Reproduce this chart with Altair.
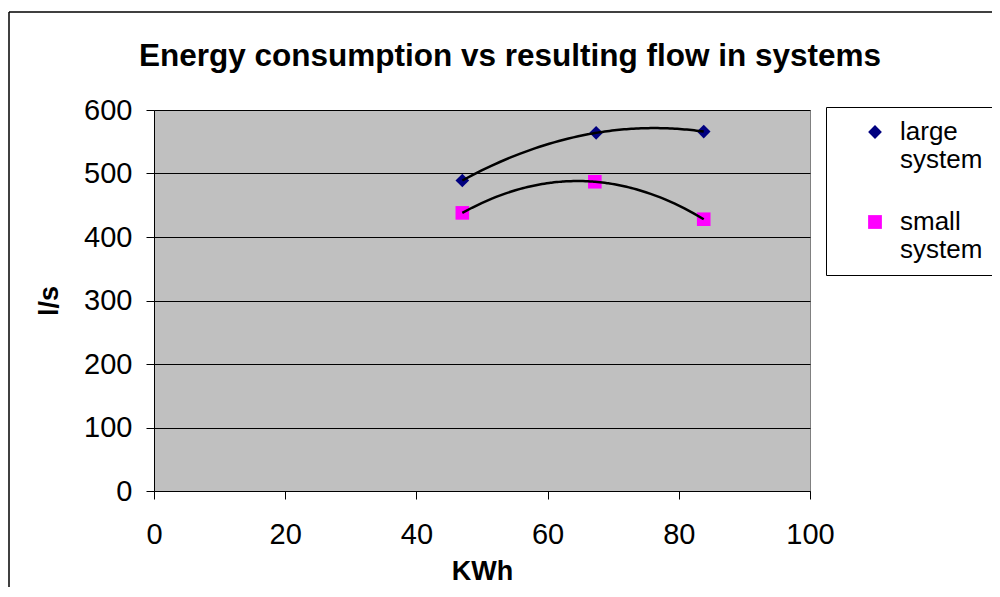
import altair as alt
import pandas as pd

TITLE = "Energy consumption vs resulting flow in systems"
X_TITLE = "KWh"
Y_TITLE = "l/s"
SERIES = ["large system", "small system"]
COLORS = ["#000080", "#FF00FF"]
SHAPES = ["diamond", "square"]

large_kwh = [47.0, 67.4, 83.8]
large_flow = [489, 564, 566]
small_kwh = [47.0, 67.2, 83.8]
small_flow = [438, 487, 428]

X_TICKS = [0, 20, 40, 60, 80, 100]
Y_TICKS = [0, 100, 200, 300, 400, 500, 600]

rows = []
for k, f in zip(large_kwh, large_flow):
    rows.append({"series": SERIES[0], "kwh": k, "flow": f})
for k, f in zip(small_kwh, small_flow):
    rows.append({"series": SERIES[1], "kwh": k, "flow": f})
df = pd.DataFrame(rows)
one = pd.DataFrame({"k": [0]})

FONT = "Liberation Sans"

x_enc = alt.X(
    "kwh:Q",
    scale=alt.Scale(domain=[0, 100], nice=False),
    axis=alt.Axis(values=X_TICKS, title=X_TITLE, grid=False, tickSize=8,
                  labelPadding=21, titlePadding=9, labelFlush=False),
)
y_enc = alt.Y(
    "flow:Q",
    scale=alt.Scale(domain=[0, 600], nice=False),
    axis=alt.Axis(values=Y_TICKS, title=Y_TITLE, grid=True, tickSize=8,
                  labelPadding=14, titlePadding=20, labelFlush=False),
)

LEG = alt.Legend(
    title=None, orient="none", legendX=672, legendY=-3,
    fillColor="white", strokeColor="black", padding=12,
    symbolOffset=24, labelOffset=12, labelFont=FONT, labelFontSize=26,
    labelColor="black", labelExpr="split(datum.label, ' ')",
    symbolSize=190, symbolStrokeWidth=0, rowPadding=36, labelLimit=300,
)

points = alt.Chart(df).mark_point(filled=True, opacity=1, size=185).encode(
    x=x_enc,
    y=y_enc,
    color=alt.Color("series:N", scale=alt.Scale(domain=SERIES, range=COLORS), legend=LEG),
    shape=alt.Shape("series:N", scale=alt.Scale(domain=SERIES, range=SHAPES), legend=LEG),
)

trend = alt.Chart(df).transform_regression(
    "kwh", "flow", groupby=["series"], method="poly", order=2
).mark_line(color="black", strokeWidth=2.5).encode(
    x="kwh:Q", y="flow:Q", detail="series:N"
)

left_border = alt.Chart(one).mark_rule(color="black", strokeWidth=1.5, clip=False).encode(
    x=alt.value(-145), y=alt.value(-98), y2=alt.value(500)
)
top_border = alt.Chart(one).mark_rule(color="black", strokeWidth=1.5, clip=False).encode(
    x=alt.value(-145), x2=alt.value(900), y=alt.value(-98)
)

title = alt.Chart(one).mark_text(
    text=TITLE, font=FONT, fontSize=31.5, fontWeight="bold", align="center",
    baseline="alphabetic", color="black"
).encode(x=alt.value(356), y=alt.value(-44))

chart = alt.layer(points, trend, left_border, top_border, title).properties(
    width=656, height=381,
    autosize=alt.AutoSizeParams(type="none"),
    padding={"left": 146, "top": 102, "right": 182, "bottom": 96},
).configure(
    font=FONT,
).configure_view(
    fill="#C0C0C0", stroke="#808080", strokeWidth=1,
).configure_axis(
    labelFont=FONT, labelFontSize=29, labelColor="black",
    titleFont=FONT, titleFontSize=27, titleFontWeight="bold", titleColor="black",
    domainColor="black", domainWidth=1, tickColor="black", tickWidth=1,
    gridColor="black", gridWidth=1, gridOpacity=1,
)

chart.save("out.html", embed_options={"renderer": "svg", "actions": False})
